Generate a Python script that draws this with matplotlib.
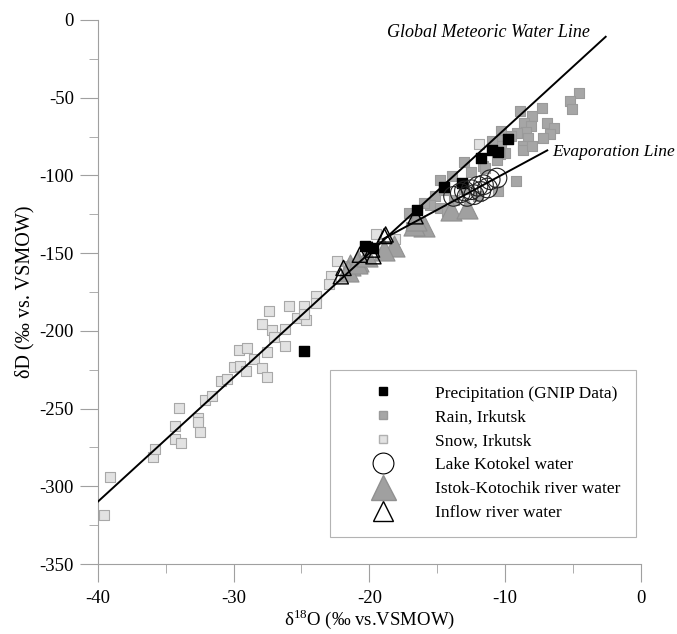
import matplotlib
matplotlib.use("Agg")
import matplotlib.pyplot as plt
from matplotlib.lines import Line2D
from matplotlib.ticker import MultipleLocator

plt.rcParams['font.family'] = ['Liberation Serif', 'DejaVu Serif']
plt.rcParams['axes.unicode_minus'] = False
plt.rcParams['mathtext.fontset'] = 'custom'
plt.rcParams['mathtext.rm'] = 'Liberation Serif'

# d18O, dD values
snow_x = [-39.5, -39.1, -35.9, -35.8, -34.3, -33.9, -34.3, -34.0, -32.6, -32.6,
          -32.5, -32.1, -31.6, -30.9, -30.5, -30.0, -29.5, -29.1, -29.6, -29.0,
          -28.5, -27.9, -27.5, -27.5, -27.9, -27.2, -27.0, -27.4, -26.2, -26.2,
          -25.9, -25.3, -24.8, -24.7, -24.8, -23.9, -23.9, -22.4, -22.8, -19.5,
          -18.1, -11.9, -23.0, -21.6]
snow_y = [-318.4, -294.2, -281.1, -276.2, -269.5, -272.1, -261.2, -249.8, -255.8, -258.6,
          -265.1, -244.7, -241.9, -232.5, -230.8, -223.5, -222.7, -225.9, -212.2, -210.9,
          -217.9, -224.1, -229.9, -213.7, -195.9, -199.3, -203.8, -187.1, -198.5, -210.0,
          -184.1, -191.6, -184.1, -192.9, -189.0, -177.3, -182.0, -154.8, -164.9, -138.0,
          -140.7, -79.6, -170.0, -158.0]

rain_x = [-4.6, -5.2, -5.1, -7.3, -8.9, -8.0, -8.6, -8.1, -6.9, -6.4,
          -6.7, -7.2, -8.5, -8.3, -8.7, -8.7, -8.0, -9.1, -10.3, -9.6,
          -10.3, -10.3, -10.0, -11.0, -10.4, -13.0, -11.6, -10.6, -9.2, -13.9,
          -13.0, -10.5, -15.2, -14.5, -13.8, -12.0, -15.5, -14.8, -16.0, -16.9,
          -16.2, -17.1, -14.8, -14.3, -12.5, -11.5]
rain_y = [-47.3, -52.2, -57.4, -56.5, -58.4, -62.1, -66.4, -67.9, -66.0, -69.2,
          -73.2, -76.0, -72.1, -76.2, -80.9, -83.9, -81.4, -73.0, -71.7, -74.5,
          -77.3, -80.9, -85.6, -77.7, -86.1, -91.4, -93.8, -89.9, -103.4, -100.6,
          -108.5, -110.3, -113.5, -109.2, -115.6, -113.5, -118.8, -120.7, -117.7, -133.4,
          -131.7, -124.0, -102.8, -123.1, -98.0, -95.0]

precip_x = [-24.8, -20.3, -19.7, -16.5, -14.5, -13.2, -11.8, -11.0, -10.5, -9.8]
precip_y = [-212.8, -145.2, -146.9, -122.0, -107.5, -104.9, -89.1, -83.9, -85.2, -76.6]

lake_x = [-13.8, -13.3, -12.5, -12.0, -11.6, -11.1, -10.6, -12.3, -11.8, -12.8, -11.3, -13.0]
lake_y = [-113.5, -111.3, -109.2, -107.0, -106.0, -102.8, -101.7, -112.4, -110.3, -113.5, -108.1, -110.0]

istok_x = [-16.0, -16.7, -18.2, -18.9, -20.8, -21.4, -21.6, -20.9, -20.2, -16.6, -14.0, -12.8]
istok_y = [-132.7, -131.7, -145.6, -147.7, -155.2, -157.4, -161.6, -156.3, -152.0, -128.5, -122.0, -121.0]

inflow_x = [-21.9, -20.7, -19.8, -18.8, -16.6, -18.9, -22.1, -19.7]
inflow_y = [-159.5, -151.0, -147.7, -138.0, -126.3, -139.0, -164.9, -152.0]

gmwl_x = [-40.0, -2.6]
evap_x = [-19.0, -6.9]

fig = plt.figure(figsize=(6.77, 6.34), dpi=100)
ax = fig.add_axes([0.1443, 0.1104, 0.8025, 0.8581])

ax.plot(gmwl_x, [8 * v + 10 for v in gmwl_x], color='black', lw=1.4, zorder=5)
ax.plot(evap_x, [-141.0 + 4.72 * (v + 19.0) for v in evap_x], color='black', lw=1.4, zorder=5)

ax.scatter(snow_x, snow_y, marker='s', s=45, facecolor='#e2e2e2', edgecolor='#a8a8a8', lw=0.8, zorder=2)
ax.scatter(rain_x, rain_y, marker='s', s=45, facecolor='#a6a6a6', edgecolor='#9a9a9a', lw=0.8, zorder=2)
ax.scatter(istok_x, istok_y, marker='^', s=230, facecolor='#a0a0a0', edgecolor='#909090', lw=0.8, zorder=3)
ax.scatter(precip_x, precip_y, marker='s', s=45, facecolor='black', edgecolor='black', zorder=4)
ax.scatter(lake_x, lake_y, marker='o', s=200, facecolor='none', edgecolor='#222222', lw=0.8, zorder=4)
ax.scatter(inflow_x, inflow_y, marker='^', s=120, facecolor='none', edgecolor='black', lw=1.0, zorder=4)

ax.text(-18.7, -8, 'Global Meteoric Water Line', style='italic', fontsize=13, va='center')
ax.text(-6.5, -85, 'Evaporation Line', style='italic', fontsize=12.5, va='center')

ax.set_xlim(-40, 0)
ax.set_ylim(-350, 0)
ax.xaxis.set_major_locator(MultipleLocator(10))
ax.xaxis.set_minor_locator(MultipleLocator(5))
ax.yaxis.set_major_locator(MultipleLocator(50))
ax.yaxis.set_minor_locator(MultipleLocator(25))
for s in ['top', 'right']:
    ax.spines[s].set_visible(False)
for s in ['left', 'bottom']:
    ax.spines[s].set_color('#a0a0a0')
ax.tick_params(which='major', direction='out', length=13, color='#a0a0a0', labelsize=13.5)
ax.tick_params(axis='x', which='major', pad=6)
ax.tick_params(axis='y', which='major', pad=4)
ax.tick_params(which='minor', direction='out', length=6.5, color='#a0a0a0')
ax.set_xlabel('δ$^{18}$O (‰ vs.VSMOW)', fontsize=13.5, labelpad=0)
ax.set_ylabel('δD (‰ vs. VSMOW)', fontsize=14.5, labelpad=4)

handles = [
    Line2D([], [], ls='none', marker='s', ms=6, mfc='black', mec='black'),
    Line2D([], [], ls='none', marker='s', ms=6, mfc='#a6a6a6', mec='#9a9a9a'),
    Line2D([], [], ls='none', marker='s', ms=6, mfc='#e2e2e2', mec='#b0b0b0'),
    Line2D([], [], ls='none', marker='o', ms=15, mfc='none', mec='black', mew=0.8),
    Line2D([], [], ls='none', marker='^', ms=18, mfc='#a0a0a0', mec='#909090'),
    Line2D([], [], ls='none', marker='^', ms=14, mfc='none', mec='black', mew=1.0),
]
labels = ['Precipitation (GNIP Data)', 'Rain, Irkutsk', 'Snow, Irkutsk',
          'Lake Kotokel water', 'Istok-Kotochik river water', 'Inflow river water']
leg = ax.legend(handles, labels, loc='upper left', bbox_to_anchor=(0.428, 0.357),
                fontsize=12.5, frameon=True, fancybox=False, borderpad=0.9,
                labelspacing=0.45, handlelength=4.3, handletextpad=0.84, borderaxespad=0)
leg.get_frame().set_edgecolor('#a0a0a0')
leg.get_frame().set_linewidth(0.8)

fig.savefig('out.png', dpi=100)
